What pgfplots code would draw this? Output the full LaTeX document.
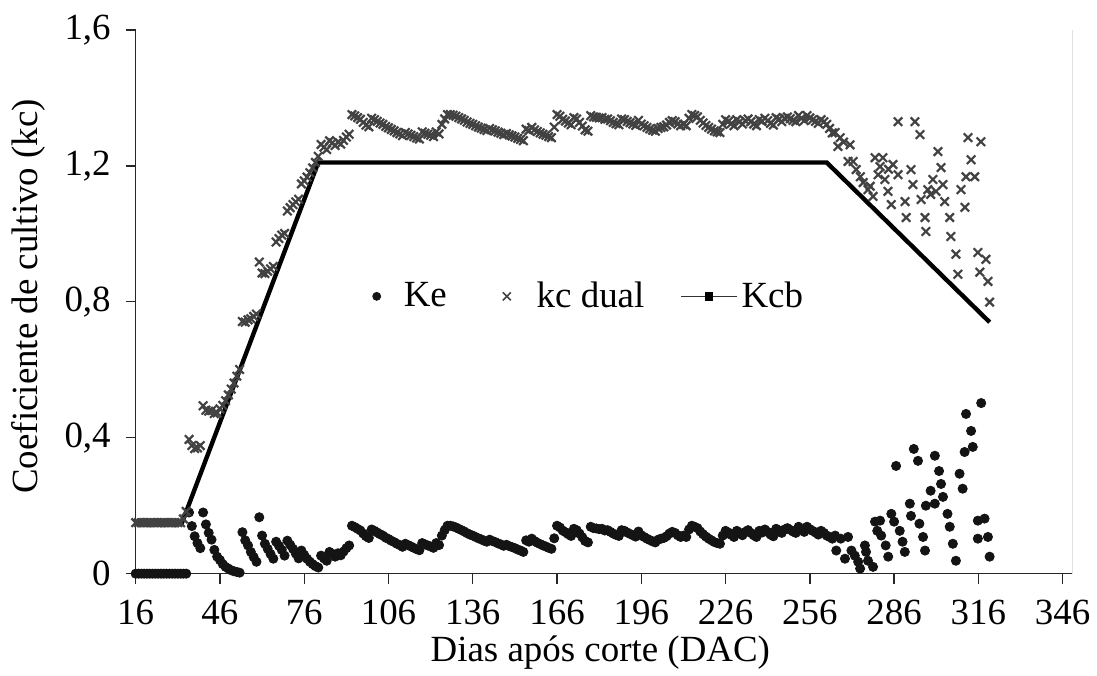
\documentclass[border=0pt]{standalone}
\usepackage{fontspec}
\setmainfont{Liberation Serif}
\usepackage{pgfplots}
\usepackage{pgfplotstable}
\pgfplotsset{compat=1.18}

\definecolor{kedot}{gray}{0.08}
\definecolor{kcx}{gray}{0.26}

% Daily values: day, evaporation coefficient Ke, dual crop coefficient kc
\pgfplotstableread{
day ke kcd
16 0 0.150
17 0 0.150
18 0 0.150
19 0 0.150
20 0 0.150
21 0 0.150
22 0 0.150
23 0 0.150
24 0 0.150
25 0 0.150
26 0 0.150
27 0 0.150
28 0 0.150
29 0 0.150
30 0 0.150
31 0 0.150
32 0 0.150
33 0 0.161
34 0 0.183
35 0.180 0.395
36 0.140 0.377
37 0.110 0.368
38 0.090 0.370
39 0.075 0.377
40 0.180 0.494
41 0.145 0.481
42 0.120 0.478
43 0.100 0.480
44 0.070 0.471
45 0.050 0.473
46 0.040 0.485
47 0.028 0.495
48 0.020 0.509
49 0.015 0.526
50 0.010 0.543
51 0.007 0.561
52 0.005 0.581
53 0.003 0.601
54 0.122 0.742
55 0.098 0.740
56 0.083 0.747
57 0.064 0.750
58 0.049 0.757
59 0.035 0.764
60 0.166 0.917
61 0.112 0.885
62 0.088 0.883
63 0.073 0.890
64 0.058 0.897
65 0.044 0.904
66 0.094 0.976
67 0.082 0.986
68 0.070 0.996
69 0.053 1.001
70 0.097 1.067
71 0.085 1.077
72 0.073 1.086
73 0.059 1.094
74 0.045 1.102
75 0.068 1.147
76 0.055 1.156
77 0.044 1.167
78 0.035 1.180
79 0.028 1.194
80 0.022 1.210
81 0.018 1.228
82 0.053 1.263
83 0.045 1.255
84 0.038 1.248
85 0.064 1.274
86 0.058 1.268
87 0.050 1.260
88 0.060 1.270
89 0.054 1.264
90 0.065 1.275
91 0.075 1.285
92 0.083 1.293
93 0.141 1.351
94 0.137 1.347
95 0.132 1.342
96 0.127 1.337
97 0.118 1.328
98 0.110 1.320
99 0.105 1.315
100 0.130 1.340
101 0.126 1.336
102 0.121 1.331
103 0.116 1.326
104 0.112 1.322
105 0.106 1.316
106 0.102 1.312
107 0.097 1.307
108 0.093 1.303
109 0.088 1.298
110 0.084 1.294
111 0.079 1.289
112 0.088 1.298
113 0.084 1.294
114 0.080 1.290
115 0.076 1.286
116 0.072 1.282
117 0.069 1.279
118 0.090 1.300
119 0.086 1.296
120 0.083 1.293
121 0.080 1.290
122 0.076 1.286
123 0.090 1.300
124 0.084 1.294
125 0.112 1.322
126 0.128 1.338
127 0.141 1.351
128 0.141 1.351
129 0.139 1.349
130 0.136 1.346
131 0.132 1.342
132 0.128 1.338
133 0.124 1.334
134 0.119 1.329
135 0.115 1.325
136 0.112 1.322
137 0.108 1.318
138 0.104 1.314
139 0.101 1.311
140 0.097 1.307
141 0.094 1.304
142 0.100 1.310
143 0.096 1.306
144 0.093 1.303
145 0.089 1.299
146 0.086 1.296
147 0.082 1.292
148 0.085 1.295
149 0.081 1.291
150 0.078 1.288
151 0.075 1.285
152 0.071 1.281
153 0.068 1.278
154 0.064 1.274
155 0.098 1.308
156 0.094 1.304
157 0.103 1.313
158 0.096 1.306
159 0.091 1.301
160 0.087 1.297
161 0.083 1.293
162 0.080 1.290
163 0.076 1.286
164 0.073 1.283
165 0.104 1.314
166 0.141 1.351
167 0.136 1.346
168 0.127 1.337
169 0.122 1.332
170 0.116 1.326
171 0.111 1.321
172 0.132 1.342
173 0.128 1.338
174 0.118 1.328
175 0.107 1.317
176 0.096 1.306
177 0.092 1.302
178 0.138 1.348
179 0.134 1.344
180 0.133 1.343
181 0.131 1.341
182 0.132 1.342
183 0.127 1.337
184 0.128 1.338
185 0.123 1.333
186 0.118 1.328
187 0.114 1.324
188 0.111 1.321
189 0.128 1.338
190 0.126 1.336
191 0.121 1.331
192 0.117 1.327
193 0.113 1.323
194 0.109 1.319
195 0.124 1.334
196 0.113 1.323
197 0.108 1.318
198 0.103 1.313
199 0.099 1.309
200 0.095 1.305
201 0.092 1.302
202 0.100 1.310
203 0.103 1.313
204 0.105 1.315
205 0.110 1.320
206 0.118 1.328
207 0.123 1.333
208 0.120 1.330
209 0.113 1.323
210 0.108 1.318
211 0.112 1.322
212 0.108 1.318
213 0.130 1.340
214 0.141 1.351
215 0.138 1.348
216 0.134 1.344
217 0.124 1.334
218 0.116 1.326
219 0.109 1.319
220 0.103 1.313
221 0.098 1.308
222 0.093 1.303
223 0.090 1.300
224 0.088 1.298
225 0.112 1.322
226 0.126 1.336
227 0.121 1.331
228 0.114 1.324
229 0.108 1.318
230 0.126 1.336
231 0.120 1.330
232 0.113 1.323
233 0.123 1.333
234 0.128 1.338
235 0.120 1.330
236 0.113 1.323
237 0.108 1.318
238 0.126 1.336
239 0.121 1.331
240 0.130 1.340
241 0.123 1.333
242 0.115 1.325
243 0.110 1.320
244 0.132 1.342
245 0.127 1.337
246 0.120 1.330
247 0.130 1.340
248 0.134 1.344
249 0.129 1.339
250 0.124 1.334
251 0.120 1.330
252 0.138 1.348
253 0.130 1.340
254 0.123 1.333
255 0.138 1.348
256 0.131 1.341
257 0.126 1.336
258 0.121 1.331
259 0.115 1.325
260 0.126 1.336
261 0.120 1.330
262 0.112 1.322
263 0.108 1.310
264 0.103 1.297
265 0.112 1.298
}\daily

% Late season Ke (wetting events near the end of the cycle)
\pgfplotstableread{
day ke
265.4 0.068
267 0.103
268.5 0.044
269.6 0.108
270.8 0.068
272 0.053
273.2 0.035
273.9 0.015
275.6 0.083
276 0.064
276.7 0.038
278.5 0.020
279.2 0.153
280 0.126
281 0.156
281.4 0.112
283 0.083
283.9 0.050
285 0.176
286 0.153
286.7 0.317
288 0.126
289 0.094
289.8 0.064
291.6 0.206
292 0.170
293 0.367
294.5 0.332
295 0.147
296.3 0.108
297 0.068
297.3 0.200
299 0.244
300.5 0.347
300.5 0.206
302 0.302
302.7 0.264
303.4 0.226
305 0.176
305.8 0.138
306.9 0.088
308 0.038
309.3 0.294
310.4 0.250
311.1 0.358
311.6 0.470
313.4 0.420
314 0.373
315.8 0.156
315.8 0.103
317 0.502
318.2 0.162
319.4 0.108
320 0.050
}\kelate

% Late season dual kc
\pgfplotstableread{
day kcd
266 1.257
266.8 1.283
268 1.270
269.6 1.213
270.3 1.262
271.4 1.213
272.5 1.189
274 1.168
275 1.151
276.7 1.130
277.5 1.140
278.5 1.110
279.2 1.224
280.3 1.174
281 1.198
282 1.224
282.7 1.160
283.8 1.125
284 1.190
285 1.086
285.6 1.204
287.4 1.330
287.4 1.174
289.9 1.095
290.3 1.048
292 1.189
292.7 1.145
293.4 1.330
295.2 1.292
295.6 1.101
297 1.048
297.3 1.007
298 1.130
299 1.116
299.8 1.160
300.9 1.125
301.6 1.242
302.7 1.195
303.4 1.145
304 1.095
305.8 1.048
306.2 0.992
308 0.940
308.7 0.881
309.8 1.130
311.2 1.078
311.6 1.168
312.3 1.283
313.4 1.218
314.7 1.168
315.8 0.945
316.5 0.887
316.9 1.271
318.7 0.925
319.4 0.860
320 0.799
}\kclate

% Basal crop coefficient curve
\pgfplotstableread{
day kcb
16 0.15
32.5 0.15
81 1.21
262 1.21
320 0.74
}\kcbtab

\begin{document}
\begin{tikzpicture}
\begin{axis}[
  scale only axis,
  width=469.5pt, height=272.5pt,
  xmin=16, xmax=349.5, ymin=0, ymax=1.6,
  axis x line*=bottom, axis y line*=left,
  axis line style={black!85, line width=0.7pt},
  xtick={16,46,...,346},
  ytick={0,0.4,0.8,1.2,1.6},
  yticklabels={0,{0,4},{0,8},{1,2},{1,6}},
  tick align=outside,
  major tick length=5pt,
  tick style={black!85, line width=0.7pt},
  /pgf/number format/assume math mode=true,
  every tick label/.append style={font=\fontsize{18.5}{20}\selectfont},
  xticklabel style={anchor=north, yshift=-4.5pt},
  yticklabel style={anchor=east, xshift=-4pt},
  xlabel={Dias após corte (DAC)},
  ylabel={Coeficiente de cultivo (kc)},
  label style={font=\fontsize{18.5}{20}\selectfont},
  xlabel style={at={(axis description cs:0.496,0)}, anchor=center, yshift=-39.5pt},
  ylabel style={at={(axis description cs:-0.115,0.51)}, anchor=center},
  legend columns=3,
  legend style={at={(axis cs:99.5,0.816)}, anchor=west, draw=none, fill=none,
    inner sep=0pt,
    font=\fontsize{18.5}{20}\selectfont,
    /tikz/column 2/.style={column sep=25pt},
    /tikz/column 4/.style={column sep=16pt}},
  legend cell align=left,
]
\addplot[only marks, mark=*, mark size=2.3pt, kedot,
  legend image code/.code={
    \fill[kedot] (0.1cm,0cm) circle (2pt);
    \path (0cm,0cm) (0.5cm,0cm);}]
  table[x=day, y=ke]{\daily};
\addlegendentry{Ke}
\addplot[only marks, mark=*, mark size=2.3pt, kedot, forget plot] table[x=day, y=ke]{\kelate};
\addplot[only marks, mark=x, mark size=3pt, kcx, mark options={line width=1.1pt},
  legend image code/.code={
    \draw[kcx, line width=0.8pt] (0.1cm,0cm) +(-2pt,-2pt) -- +(2pt,2pt) +(-2pt,2pt) -- +(2pt,-2pt);
    \path (0cm,0cm) (0.55cm,0cm);}]
  table[x=day, y=kcd]{\daily};
\addlegendentry{kc dual}
\addplot[only marks, mark=x, mark size=3pt, kcx, mark options={line width=1.1pt}, forget plot] table[x=day, y=kcd]{\kclate};
\addplot[black, line width=2.2pt,
  legend image code/.code={
    \draw[black!80, line width=0.8pt] (0cm,0cm) -- (0.98cm,0cm);
    \fill (0.46cm,-1.2pt) rectangle (0.53cm,1.2pt);}]
  table[x=day, y=kcb]{\kcbtab};
\addlegendentry{Kcb}
\draw[black!35, line width=0.6pt] (rel axis cs:1,0) -- (rel axis cs:1,1);
\end{axis}
\path ([shift={(-68pt,-51pt)}]current axis.south west) rectangle ([shift={(11pt,15pt)}]current axis.north east);
\end{tikzpicture}
\end{document}
